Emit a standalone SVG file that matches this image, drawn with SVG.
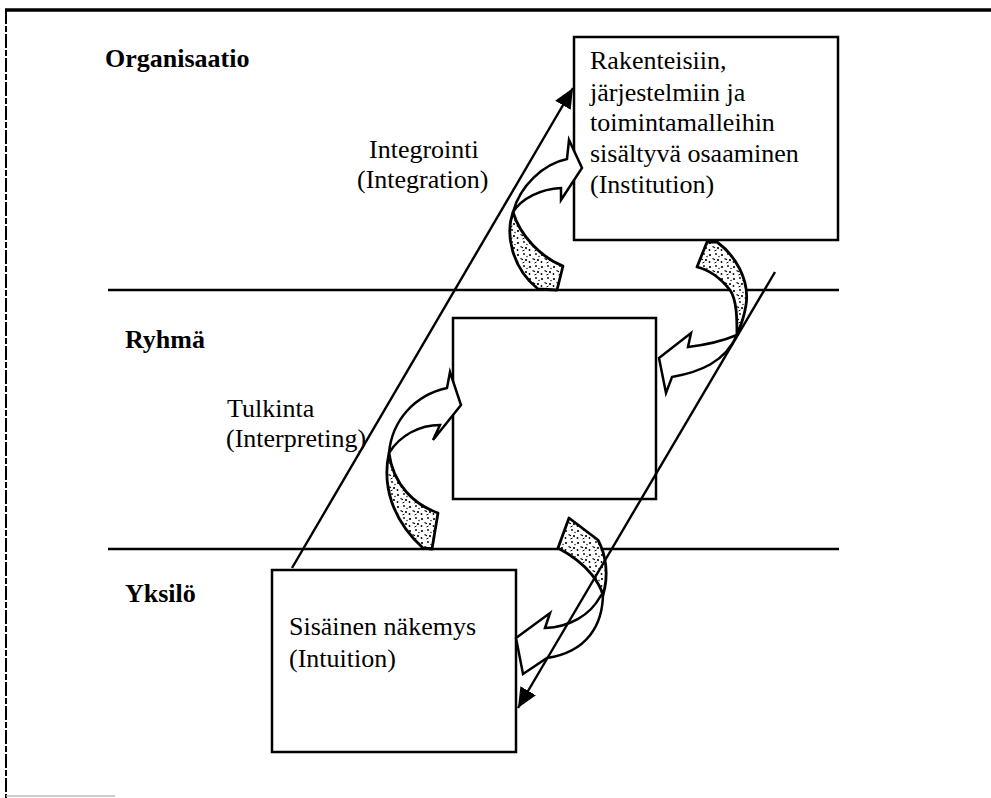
<svg xmlns="http://www.w3.org/2000/svg" width="991" height="798" viewBox="0 0 991 798">
<style>
.lbl{font-family:"Liberation Serif","Times New Roman",serif;font-size:26px;fill:#000}
.lane{font-family:"Liberation Serif","Times New Roman",serif;font-size:26px;font-weight:bold;fill:#000}
.box{fill:#fff;stroke:#000;stroke-width:2.5}
.rule{stroke:#000;stroke-width:2.5;fill:none}
.diag{stroke:#000;stroke-width:2.4;fill:none}
.tail{fill:url(#stipple);stroke:#000;stroke-width:2.8;stroke-linejoin:round}
.head{fill:#fff;stroke:#000;stroke-width:2.5;stroke-linejoin:miter}
</style>
<defs>
<pattern id="stipple" width="12" height="12" patternUnits="userSpaceOnUse">
<rect width="12" height="12" fill="#fff"/>
<circle cx="2" cy="3" r="1.1" fill="#000"/>
<circle cx="8" cy="2" r="0.9" fill="#000"/>
<path d="M4.5 6.5 l2.5 1.2" stroke="#000" stroke-width="1.1"/>
<circle cx="1.5" cy="10" r="0.9" fill="#000"/>
<circle cx="10" cy="8" r="1.1" fill="#000"/>
<path d="M6.5 11 l2 -1" stroke="#000" stroke-width="1"/>
<circle cx="11" cy="4.5" r="0.7" fill="#000"/>
</pattern>
<marker id="tri" markerUnits="userSpaceOnUse" markerWidth="22" markerHeight="20" refX="20" refY="10" orient="auto">
<path d="M0,1 L20,10 L0,19 Z" fill="#000"/>
</marker>
</defs>
<rect width="991" height="798" fill="#fff"/>
<g id="frame">
<line x1="5" y1="10" x2="991" y2="10" stroke="#000" stroke-width="3.5"/>
<line x1="6" y1="10" x2="6" y2="798" stroke="#000" stroke-width="2" stroke-dasharray="14 2 6 2"/>
<line x1="6" y1="796" x2="115" y2="796" stroke="#bbb" stroke-width="1.5"/>
<line class="rule" x1="108" y1="290" x2="839" y2="290"/>
<line class="rule" x1="108" y1="549" x2="839" y2="549"/>
</g>
<g id="lane-organisaatio"><text class="lane" x="105" y="67">Organisaatio</text></g>
<g id="lane-ryhma"><text class="lane" x="125" y="348">Ryhmä</text></g>
<g id="lane-yksilo"><text class="lane" x="125" y="602">Yksilö</text></g>
<g id="node-institution">
<rect class="box" x="574" y="37" width="264" height="203"/>
<text class="lbl" x="590" y="69">Rakenteisiin,</text>
<text class="lbl" x="590" y="101">järjestelmiin ja</text>
<text class="lbl" x="590" y="131">toimintamalleihin</text>
<text class="lbl" x="590" y="162">sisältyvä osaaminen</text>
<text class="lbl" x="590" y="193">(Institution)</text>
</g>
<g id="node-group">
<rect class="box" x="453" y="318" width="203" height="181"/>
</g>
<g id="node-intuition">
<rect class="box" x="272" y="570" width="244" height="182"/>
<text class="lbl" x="289" y="635">Sisäinen näkemys</text>
<text class="lbl" x="289" y="667">(Intuition)</text>
</g>
<g id="label-integration">
<text class="lbl" x="369" y="158">Integrointi</text>
<text class="lbl" x="357" y="188">(Integration)</text>
</g>
<g id="label-interpreting">
<text class="lbl" x="227" y="417">Tulkinta</text>
<text class="lbl" x="226" y="447">(Interpreting)</text>
</g>
<g id="connectors">
<g id="arrow-integration">
<path class="tail" d="M513,212 C505,235 512,268 538,289 L557,290 L563,266 C542,258 520,236 513,212 Z"/>
<path class="head" d="M513,212 C520,186 543,164 567,159 L569,140 L582,168 L561,200 L561,188 C541,189 522,198 513,212 Z"/>
</g>
<g id="arrow-institution-down">
<path class="tail" d="M697,267 L707,242 L717,242 C735,255 750,280 746,305 C744,318 740,328 737,335 C737,320 737,300 730,290 C722,280 710,270 697,267 Z"/>
<path class="head" d="M737,335 C725,340 705,345 688,347 L691,333 L659,358 L666,393 L672,377 C700,372 725,362 737,335 Z"/>
</g>
<g id="arrow-interpreting">
<path class="tail" d="M389,453 C382,485 392,520 423,548 L432,549 L438,513 C415,505 393,485 389,453 Z"/>
<path class="head" d="M389,453 C392,420 415,395 447,388 L450,372 L461,405 L433,440 L440,425 C420,425 400,435 389,453 Z"/>
</g>
<g id="arrow-intuition">
<path class="tail" d="M558,548 L569,518 L598,540 C606,555 609,575 603,595 C600,585 590,565 558,548 Z"/>
<path class="head" d="M603,593 C603,625 587,652 547,658 L523,674 L516,638 L550,613 L545,628 C570,627 590,615 600,597 Z"/>
</g>
<line class="diag" x1="292" y1="568" x2="573" y2="88" marker-end="url(#tri)"/>
<line class="diag" x1="775" y1="272" x2="518" y2="708" marker-end="url(#tri)"/>
</g>
</svg>
